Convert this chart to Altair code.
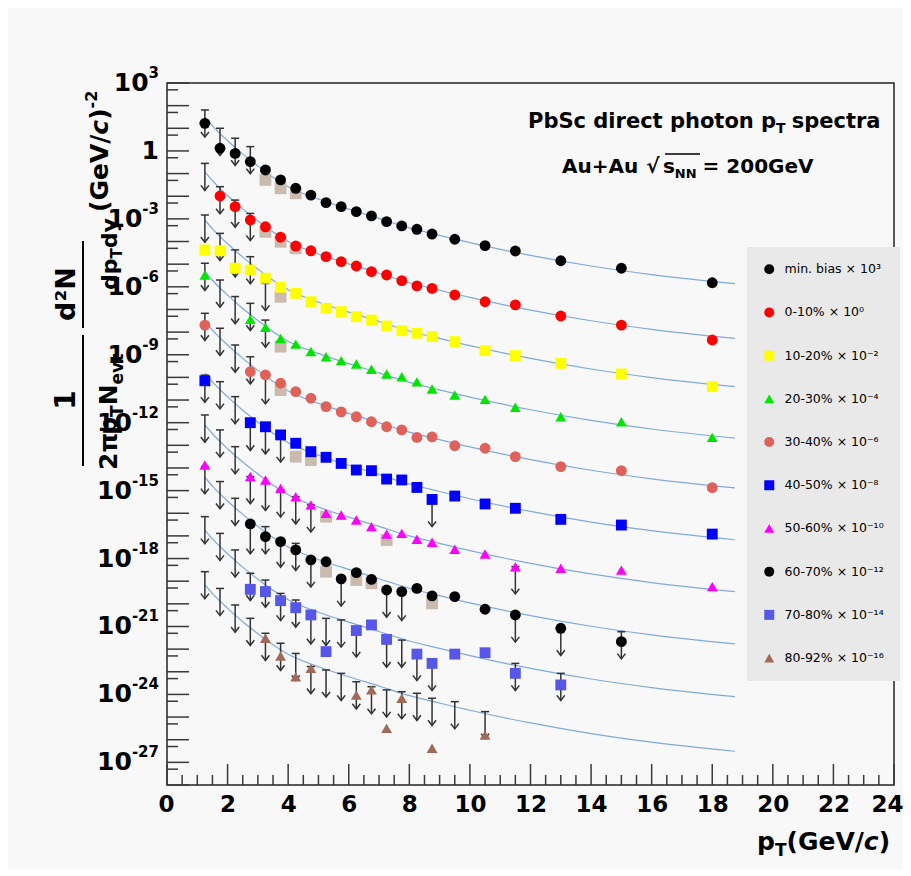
import altair as alt
import pandas as pd

FONT = "DejaVu Sans"
OX, OY = 167, 83          # page position of the plot origin
PW, PH = 727, 702         # plot area size

# ---------------- data (log10 of the plotted values) ----------------
PT = [1.25, 1.75, 2.25, 2.75, 3.25, 3.75, 4.25, 4.75, 5.25, 5.75, 6.25, 6.75,
      7.25, 7.75, 8.25, 8.75, 9.5, 10.5, 11.5, 13, 15, 18]
N = None

SERIES = ["min. bias × 10³", "0-10% × 10⁰", "10-20% × 10⁻²", "20-30% × 10⁻⁴",
          "30-40% × 10⁻⁶", "40-50% × 10⁻⁸", "50-60% × 10⁻¹⁰", "60-70% × 10⁻¹²",
          "70-80% × 10⁻¹⁴", "80-92% × 10⁻¹⁶"]
SHAPES = ["circle", "circle", "square", "triangle-up", "circle", "square",
          "triangle-up", "circle", "square", "triangle-up"]
COLORS = ["#000000", "#ff0000", "#ffff00", "#00e600", "#e0605a", "#0000ff",
          "#ff00ff", "#000000", "#5656e8", "#a06a58"]

MB    = [1.22, 0.12, -0.11, -0.47, -0.84, -1.28, -1.65, -1.95, -2.28, -2.46, -2.68, -2.87,
         -3.12, -3.31, -3.46, -3.67, -3.90, -4.18, -4.42, -4.85, -5.18, -5.82]
C0_10 = [N, -1.99, -2.46, -3.05, -3.35, -3.81, -4.20, -4.41, -4.67, -4.89, -5.08, -5.33,
         -5.48, -5.73, -5.96, -6.07, -6.36, -6.66, -6.80, -7.29, -7.69, -8.35]
C10_20 = [-4.37, -4.41, -5.18, -5.26, -5.62, -6.02, -6.29, -6.66, -6.95, -7.10, -7.32, -7.47,
          -7.73, -7.94, -8.05, -8.20, -8.42, -8.82, -9.04, -9.38, -9.85, -10.41]
C20_30 = [-5.48, N, N, -7.44, -7.79, -8.28, -8.53, -8.86, -9.09, -9.26, -9.41, -9.64,
          -9.85, -9.97, -10.20, -10.51, -10.78, -10.97, -11.32, -11.74, -11.96, -12.65]
C30_40 = [-7.69, N, N, -9.75, -9.89, -10.26, -10.63, -10.92, -11.29, -11.52, -11.74, -11.96,
          -12.18, -12.32, -12.65, -12.63, -13.02, -13.13, -13.50, -13.94, -14.12, -14.87]
C40_50 = [-10.15, N, N, -12.00, -12.18, -12.54, -12.91, -13.28, -13.53, -13.80, -14.09, -14.12,
          -14.49, -14.53, -14.86, -15.39, -15.24, -15.59, -15.78, -16.27, -16.52, -16.92]
C50_60 = [-13.87, N, N, -14.38, -14.53, -14.90, -15.27, -15.63, -16.00, -16.08, -16.30, -16.59,
          -16.92, -16.89, -17.15, -17.28, -17.59, -17.80, -18.36, -18.43, -18.51, -19.24]
C60_70 = [N, N, N, -16.47, -17.03, -17.25, -17.62, -18.06, -18.14, -18.90, -18.62, -18.92,
          -19.39, -19.46, -19.32, -19.65, -19.68, -20.24, -20.49, -21.08, -21.67, N]
C70_80 = [N, N, N, -19.36, -19.46, -19.86, -20.17, -20.49, -22.11, N, -21.18, -20.93,
          -21.57, N, -22.22, -22.63, -22.22, -22.16, -23.07, -23.58, N, N]
C80_92 = [N, N, N, N, -21.52, -22.30, -23.22, -22.85, N, N, -24.03, -23.80,
          -25.50, -24.17, N, -26.38, N, -25.79, N, N, N, N]
MARK_LOG = [MB, C0_10, C10_20, C20_30, C30_40, C40_50, C50_60, C60_70, C70_80, C80_92]

# upper limits (top of the arrows)
MB_UL    = [1.81, 1.00, 0.56, 0.19] + [N] * 18
C0_10_UL = [-0.55, -1.58, -2.17, -2.76] + [N] * 18
C10_20_UL = [-2.83, -3.64, -4.37, -4.67, -5.85] + [N] * 17
C20_30_UL = [-4.96, -5.70, -6.43, -6.73, -7.47] + [N] * 17
C30_40_UL = [-7.17, -7.83, -8.57, -9.09, -9.97] + [N] * 17
C40_50_UL = [-9.90, -10.19, -10.85, -12.03, -12.18, -12.54, N, N, N, N, N, N,
             N, N, N, -15.39, N, N, N, N, N, N]
C50_60_UL = [-11.66, -12.32, -13.06, -14.38, -14.68, -14.97, -15.27, -15.63, N, N, N, N,
             N, N, N, N, N, N, -18.36, N, N, N]
C60_70_UL = [-13.94, -14.60, -15.34, -16.59, -16.59, -17.18, -17.33, -18.06, N, -18.90, N, N,
             -19.39, -19.54, N, N, N, N, -20.49, -21.08, -21.23, N]
C70_80_UL = [-16.15, -16.89, -17.62, -18.65, -18.95, -19.54, -19.83, -20.57, -20.64, -20.71, -21.15, N,
             -21.60, -21.60, -22.19, -22.63, N, N, -22.63, -23.07, N, N]
C80_92_UL = [-18.58, -19.32, -20.05, -20.64, -21.30, -21.74, -22.19, -22.77, -22.92, -23.07, -23.44, -23.66,
             -23.80, -23.88, -23.95, -24.17, -24.32, -24.76, N, N, N, N]
UL_LOG = [MB_UL, C0_10_UL, C10_20_UL, C20_30_UL, C30_40_UL, C40_50_UL, C50_60_UL,
          C60_70_UL, C70_80_UL, C80_92_UL]

# systematic-error boxes
TAN_PT  = [3.25, 3.75, 4.25, 3.25, 3.75, 4.25, 3.75, 3.75, 3.75, 4.25, 4.75, 5.25, 7.25,
           5.25, 6.25, 6.75, 8.75]
TAN_LOG = [-1.28, -1.65, -1.87, -3.57, -4.01, -4.30, -6.44, -8.64, -10.56, -13.50, -13.65,
           -16.15, -17.18, -18.58, -18.95, -19.09, -19.98]

# fit curves: common shape (0-10 % curve) and per-series shift
CURVE_PT = [1.25, 1.5, 2.0, 2.5, 3.0, 3.5, 4.0, 5.0, 6.0, 7.0, 8.0, 9.0, 10.0, 12.0, 14.0, 16.0, 18.75]
CURVE_SHAPE = [-0.92, -1.31, -1.97, -2.56, -3.09, -3.58, -4.00, -4.55, -4.99, -5.40, -5.82,
               -6.15, -6.47, -7.03, -7.50, -7.88, -8.28]
CURVE_OFFSET = [2.42, 0.0, -2.13, -4.40, -6.60, -8.89, -11.18, -13.49, -15.82, -18.23]

Y_TICK_EXP = [3, 0, -3, -6, -9, -12, -15, -18, -21, -24, -27]
Y_TICK_BASE = ["10", "1", "10", "10", "10", "10", "10", "10", "10", "10", "10"]
Y_TICK_SUP = ["3", "", "-3", "-6", "-9", "-12", "-15", "-18", "-21", "-24", "-27"]
X_TICKS = [0, 2, 4, 6, 8, 10, 12, 14, 16, 18, 20, 22, 24]

ARROW_DEC = 1.2   # drawn arrow length (decades)

# ---------------- tables ----------------
mk, ar, cv = [], [], []
for i, s in enumerate(SERIES):
    for p, v in zip(PT, MARK_LOG[i]):
        if v is not None:
            mk.append({"pt": p, "v": 10.0 ** v, "s": s})
    for p, u in zip(PT, UL_LOG[i]):
        if u is not None:
            ar.append({"pt": p, "v": 10.0 ** u, "v2": 10.0 ** (u - ARROW_DEC)})
    for p, c in zip(CURVE_PT, CURVE_SHAPE):
        cv.append({"pt": p, "v": 10.0 ** (c + CURVE_OFFSET[i]), "s": s})
mk, ar, cv = pd.DataFrame(mk), pd.DataFrame(ar), pd.DataFrame(cv)
tan = pd.DataFrame({"pt": TAN_PT, "v": [10.0 ** t for t in TAN_LOG]})
heads = pd.DataFrame({"pt": ar["pt"], "v": ar["v2"]})

xmaj = pd.DataFrame({"pt": X_TICKS})
xmin = pd.DataFrame({"pt": [k * 0.5 for k in range(49) if k % 4 != 0]})
ymaj = pd.DataFrame({"v": [10.0 ** k for k in range(-28, 4)]})
ymin = pd.DataFrame({"v": [5 * 10.0 ** k for k in range(-28, 3)]})

XS = alt.Scale(domain=[0, 24], nice=False, zero=False)
YS = alt.Scale(type="log", domain=[1e-28, 1e3], nice=False)

XAX = alt.Axis(values=X_TICKS, title=None, grid=False, domain=False, tickSize=0,
               labelFont=FONT, labelFontSize=23, labelFontWeight="bold", labelColor="black",
               labelPadding=8, labelFlush=True, labelFlushOffset=9)


def X(f="pt"):
    return alt.X(f + ":Q", scale=XS, axis=XAX)


def Y(f="v"):
    return alt.Y(f + ":Q", scale=YS, axis=None)


TICKC = "#3a3a3a"
layers = [
    alt.Chart(xmaj).mark_rule(color=TICKC, strokeWidth=1.5).encode(x=X(), y=alt.value(PH), y2=alt.value(PH - 21)),
    alt.Chart(xmin).mark_rule(color=TICKC, strokeWidth=1.5).encode(x=X(), y=alt.value(PH), y2=alt.value(PH - 10)),
    alt.Chart(ymaj).mark_rule(color=TICKC, strokeWidth=1.5).encode(y=Y(), x=alt.value(0), x2=alt.value(22)),
    alt.Chart(ymin).mark_rule(color=TICKC, strokeWidth=1.5).encode(y=Y(), x=alt.value(0), x2=alt.value(11)),
    alt.Chart(cv).mark_line(color="#80aadc", strokeWidth=1.2, interpolate="monotone").encode(
        x=X(), y=Y(), detail="s:N"),
    alt.Chart(tan).mark_point(shape="square", filled=True, size=140, color="#c9bbae", opacity=1).encode(
        x=X(), y=Y()),
    alt.Chart(ar).mark_rule(color="#333333", strokeWidth=1.5).encode(x=X(), y=Y(), y2="v2:Q"),
    alt.Chart(ar).mark_point(shape="M-1,0L1,0", size=64, color="#333333", strokeWidth=1.5, opacity=1).encode(
        x=X(), y=Y()),
    alt.Chart(heads).mark_point(shape="M-1,-1.3L0,0L1,-1.3", size=64, color="#333333", strokeWidth=1.5,
                                opacity=1).encode(x=X(), y=Y()),
]

LEG = alt.Legend(orient="none", legendX=580, legendY=164, title=None, fillColor="#e9e9e9",
                 padding=16, rowPadding=30.2, labelFont=FONT, labelFontSize=12.5, labelColor="black",
                 symbolSize=100, symbolStrokeWidth=0, labelLimit=0, labelOffset=9)
layers.append(
    alt.Chart(mk).mark_point(filled=True, size=118, opacity=1, strokeWidth=0).encode(
        x=X(), y=Y(),
        color=alt.Color("s:N", scale=alt.Scale(domain=SERIES, range=COLORS), legend=LEG),
        shape=alt.Shape("s:N", scale=alt.Scale(domain=SERIES, range=SHAPES), legend=LEG),
    )
)

# ---------------- text helpers ----------------
EM = {" ": .348, "P": .733, "b": .716, "S": .720, "c": .593, "d": .716, "i": .343, "r": .493,
      "e": .678, "t": .478, "p": .716, "h": .712, "o": .687, "n": .712, "s": .595, "a": .675,
      "A": .774, "u": .712, "+": .838, "=": .838, "G": .821, "V": .774, "/": .365, "(": .457,
      ")": .457, "N": .837, "T": .682, "v": .652, "y": .652, "-": .415, "π": .71, "²": .438,
      "√": .838}
for dgt in "0123456789":
    EM[dgt] = .696
DUMMY = pd.DataFrame({"d": [0]})


def tw(s, size):
    return sum(EM.get(ch, .7) for ch in s) * size


def txt(s, x, y, size, angle=0, align="left", style="normal", weight="bold"):
    return alt.Chart(DUMMY).mark_text(text=s, font=FONT, fontSize=size, fontWeight=weight,
                                      fontStyle=style, angle=angle, align=align,
                                      baseline="alphabetic", color="black").encode(
        x=alt.value(x - OX), y=alt.value(y - OY))


def hrun(pieces, x, y):
    """pieces: (text, size, dy, style); text None means a gap of `size` pixels"""
    out = []
    for s, size, dy, style in pieces:
        if s is None:
            x += size
            continue
        out.append(txt(s, x, y + dy, size, style=style))
        x += tw(s, size)
    return out


def vrun(pieces, x, y):
    out = []
    for s, size, dx, style in pieces:
        out.append(txt(s, x + dx, y, size, angle=270, style=style))
        y -= tw(s, size)
    return out


def rule(x1, y1, x2, y2, w=2):
    return alt.Chart(DUMMY).mark_rule(color="black", strokeWidth=w).encode(
        x=alt.value(x1 - OX), x2=alt.value(x2 - OX), y=alt.value(y1 - OY), y2=alt.value(y2 - OY))


# ---------------- y tick labels (base + raised exponent) ----------------
BASE_FS, SUP_FS, LBL_GAP = 25, 15, 8
ylab = pd.DataFrame({"v": [10.0 ** e for e in Y_TICK_EXP], "base": Y_TICK_BASE, "sup": Y_TICK_SUP})
ylab["w"] = [round(tw(s, SUP_FS), 1) for s in Y_TICK_SUP]
layers.append(
    alt.Chart(ylab).mark_text(font=FONT, fontSize=SUP_FS, fontWeight="bold", align="right",
                              baseline="middle", dy=-10, color="black").encode(
        x=alt.value(-LBL_GAP), y=Y(), text="sup:N"))
for w in sorted(set(ylab["w"])):
    sub = ylab[ylab["w"] == w]
    layers.append(
        alt.Chart(sub).mark_text(font=FONT, fontSize=BASE_FS, fontWeight="bold", align="right",
                                 baseline="middle", color="black").encode(
            x=alt.value(-LBL_GAP - w), y=Y(), text="base:N"))

# ---------------- annotations ----------------
ann = []
ann += hrun([("PbSc direct photon p", 21, 0, "normal"), ("T", 14, 5, "normal"), (None, 6, 0, ""),
             ("spectra", 21, 0, "normal")], 528, 128)
ann += hrun([("Au+Au", 20, 0, "normal"), (None, 8, 0, ""), ("√", 20, 0, "normal"),
             ("s", 20, 0, "normal"), ("NN", 13, 5, "normal"), (None, 6, 0, ""),
             ("= 200GeV", 20, 0, "normal")], 562, 173)
ann.append(rule(665, 154, 700, 154, 1.5))
# x title
ann += hrun([("p", 25, 0, "normal"), ("T", 17, 6, "normal"), ("(GeV/", 25, 0, "normal"),
             ("c", 25, 0, "italic"), (")", 25, 0, "normal")], 757, 850)
# y title
ann.append(txt("1", 75, 400, 28, angle=270, align="center"))
ann.append(rule(83, 335, 83, 466, 2))
ann += vrun([("2π", 25, 0, "normal"), ("p", 25, 0, "normal"), ("T", 17, 6, "normal"),
             ("N", 25, 0, "normal"), ("evt", 17, 6, "normal")], 117, 470)
ann.append(txt("d²N", 75, 294, 27, angle=270, align="center"))
ann.append(rule(83, 241, 83, 328, 2))
ann += vrun([("dp", 22, 0, "normal"), ("T", 15, 5, "normal"), ("dy", 22, 0, "normal")], 117, 290)
ann += vrun([("(GeV/", 25, 0, "normal"), ("c", 25, 0, "italic"), (")", 25, 0, "normal"),
             ("-2", 16, -11, "normal")], 108, 212)

chart = alt.layer(*layers, *ann).properties(
    width=PW, height=PH,
    padding={"left": OX - 8, "top": OY - 8, "right": 9, "bottom": 84},
    autosize=alt.AutoSizeParams(type="none"),
    background="#f8f8f8",
).configure_view(stroke="#222222", strokeWidth=1.5)

chart.save("out.html", embed_options={"renderer": "svg", "actions": False})
